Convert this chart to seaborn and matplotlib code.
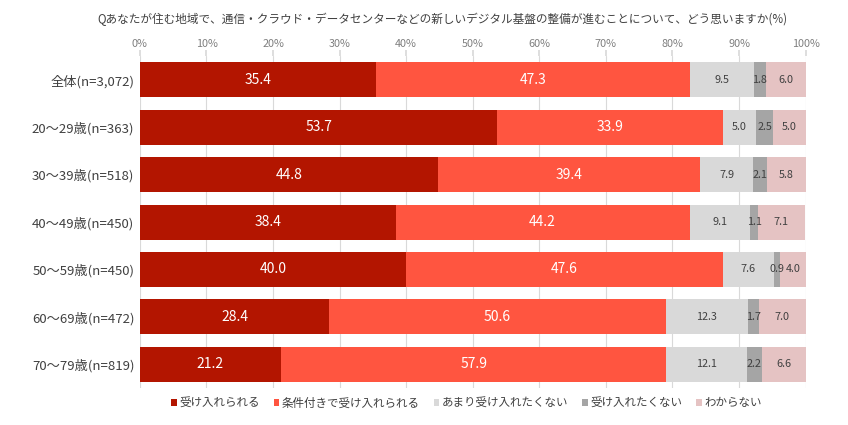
import matplotlib
matplotlib.use("Agg")
import matplotlib.pyplot as plt
import seaborn as sns
import pandas as pd
import numpy as np

categories = ["全体(n=3,072)", "20～29歳(n=363)", "30～39歳(n=518)", "40～49歳(n=450)",
              "50～59歳(n=450)", "60～69歳(n=472)", "70～79歳(n=819)"]
series_names = ["受け入れられる", "条件付きで受け入れられる", "あまり受け入れたくない", "受け入れたくない", "わからない"]
s1 = [35.4, 53.7, 44.8, 38.4, 40.0, 28.4, 21.2]
s2 = [47.3, 33.9, 39.4, 44.2, 47.6, 50.6, 57.9]
s3 = [9.5, 5.0, 7.9, 9.1, 7.6, 12.3, 12.1]
s4 = [1.8, 2.5, 2.1, 1.1, 0.9, 1.7, 2.2]
s5 = [6.0, 5.0, 5.8, 7.1, 4.0, 7.0, 6.6]
colors = ["#B31500", "#FF5540", "#D9D9D9", "#A5A5A5", "#E5C3C3"]
text_colors = ["white", "white", "#404040", "#404040", "#404040"]
xticks = [0, 10, 20, 30, 40, 50, 60, 70, 80, 90, 100]
title = "Qあなたが住む地域で、通信・クラウド・データセンターなどの新しいデジタル基盤の整備が進むことについて、どう思いますか(%)"

sns.set_theme(style="white")
plt.rcParams['font.family'] = ['Noto Sans CJK JP', 'DejaVu Sans']

data = [s1, s2, s3, s4, s5]
rows = []
for name, vals in zip(series_names, data):
    for c, v in zip(categories, vals):
        rows.append({"cat": c, "series": name, "value": v})
df = pd.DataFrame(rows)

fig = plt.figure(figsize=(8.48, 4.25), dpi=100)
ax = fig.add_axes([0.165, 0.087, 0.785, 0.781])

left = np.zeros(len(categories))
for i, (name, vals) in enumerate(zip(series_names, data)):
    sub = df[df["series"] == name]
    sns.barplot(data=sub, y="cat", x="value", ax=ax, color=colors[i], orient="h",
                width=0.74, left=left, label=name, saturation=1, linewidth=0)
    for j, v in enumerate(vals):
        fs = 10 if i < 2 else 7.8
        ax.text(left[j] + v / 2, j, f"{v:.1f}", ha="center", va="center",
                color=text_colors[i], fontsize=fs)
    left = left + np.array(vals)

handles, labels = ax.get_legend_handles_labels()
if ax.get_legend() is not None:
    ax.get_legend().remove()

ax.set_xlim(0, 100)
ax.set_ylim(len(categories) - 0.5, -0.5)
ax.set_xticks(xticks)
ax.set_xticklabels([f"{t}%" for t in xticks], fontsize=7.8, color="#7f7f7f")
ax.xaxis.tick_top()
ax.tick_params(axis="x", length=4, color="#d9d9d9", pad=1, top=True, bottom=False)
ax.tick_params(axis="y", length=0, labelsize=9.5, labelcolor="#404040", pad=4)
ax.set_xlabel("")
ax.set_ylabel("")
ax.grid(axis="x", color="#d9d9d9", linewidth=0.8)
ax.set_axisbelow(True)
for s in ax.spines.values():
    s.set_visible(False)

fig.legend(handles, labels, loc="center", bbox_to_anchor=(0.55, 0.052), ncol=5,
           frameon=False, fontsize=8.3, handlelength=0.5, handleheight=0.5,
           handletextpad=0.2, columnspacing=1.2, labelcolor="#404040")

fig.text(0.522, 0.955, title, ha="center", va="center", fontsize=8.4, color="#404040")

fig.savefig("out.png", dpi=100)
